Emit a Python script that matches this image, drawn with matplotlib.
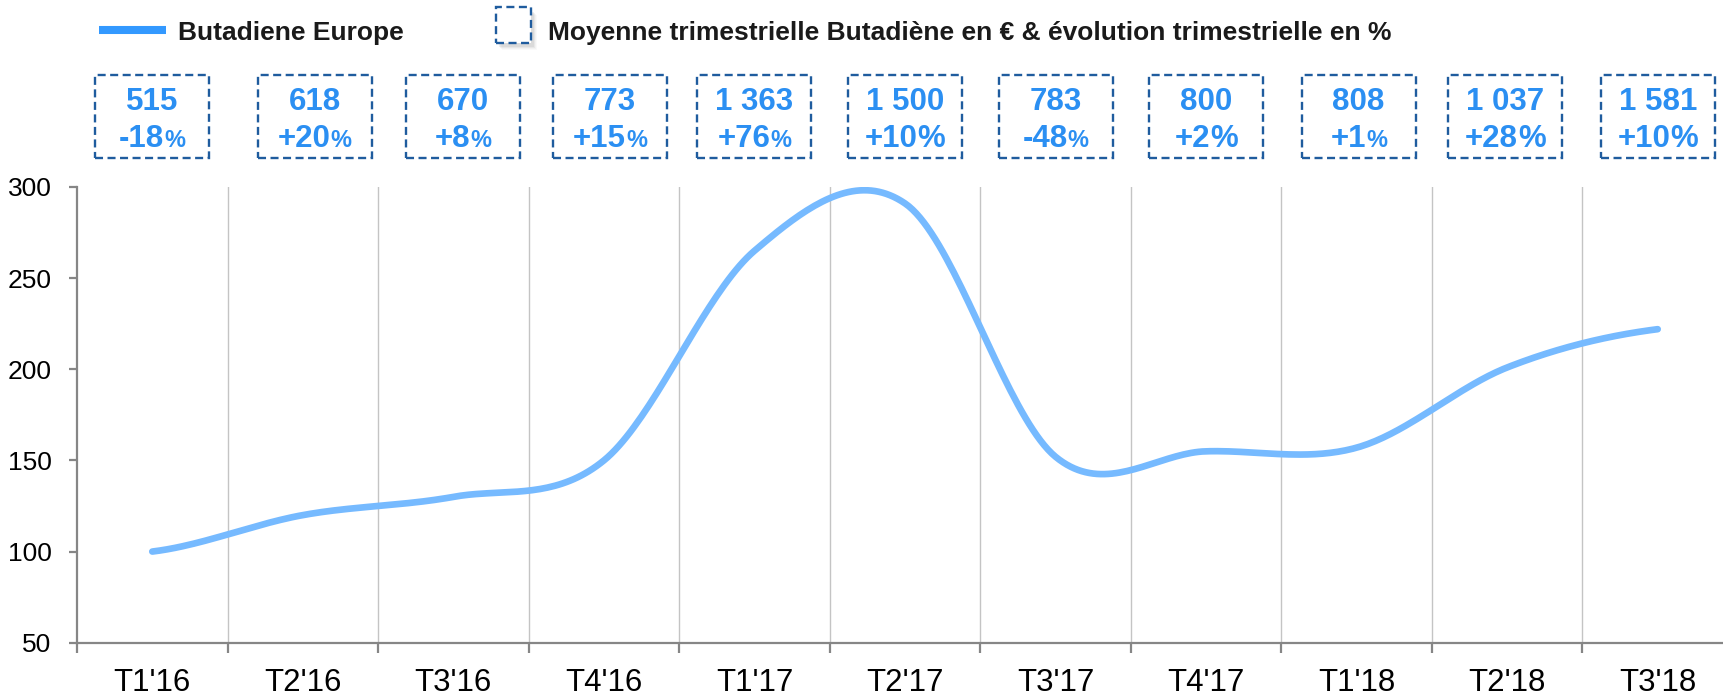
import numpy as np
import matplotlib
matplotlib.use('Agg')
import matplotlib.pyplot as plt
from matplotlib.patches import Rectangle
from matplotlib.transforms import IdentityTransform

plt.rcParams['font.family'] = ['Liberation Sans', 'DejaVu Sans']

# Quarterly data
quarters = ["T1'16", "T2'16", "T3'16", "T4'16", "T1'17", "T2'17",
            "T3'17", "T4'17", "T1'18", "T2'18", "T3'18"]
butadiene_index = [100, 120, 130, 150, 265, 291, 152, 155, 157, 201, 222]
avg_price_eur = ["515", "618", "670", "773", "1 363", "1 500",
                 "783", "800", "808", "1 037", "1 581"]
qoq_change = ["-18", "+20", "+8", "+15", "+76", "+10",
              "-48", "+2", "+1", "+28", "+10"]

# layout / style of the boxes above the chart
small_pct = [True, True, True, True, True, False, True, False, True, False, False]
box_shift_px = [0, 12, 10, 6, 0, 0, 0, 0, 2, -2, 0]

LINE_COLOR = '#76BAFF'
LEGEND_LINE = '#3399FF'
BOX_TEXT = '#2B8FF2'
BOX_EDGE = '#1F5C9E'
TEXT_DARK = '#1A1A1A'

W, H = 1723, 695
fig = plt.figure(figsize=(W / 100, H / 100), dpi=100)
ax = fig.add_axes([77 / W, 52.3 / H, 1656 / W, 455.7 / H])


def smooth_line(y, n=40):
    """Catmull-Rom curve through the quarterly points (Excel-style smoothing)."""
    y = np.asarray(y, dtype=float)
    p = np.concatenate([[y[0]], y, [y[-1]]])
    xs, ys = [], []
    for i in range(len(y) - 1):
        p0, p1, p2, p3 = p[i], p[i + 1], p[i + 2], p[i + 3]
        m1 = (p2 - p0) / 2
        m2 = (p3 - p1) / 2
        t = np.linspace(0, 1, n, endpoint=(i == len(y) - 2))
        h00 = 2 * t**3 - 3 * t**2 + 1
        h10 = t**3 - 2 * t**2 + t
        h01 = -2 * t**3 + 3 * t**2
        h11 = t**3 - t**2
        xs.append(i + t)
        ys.append(h00 * p1 + h10 * m1 + h01 * p2 + h11 * m2)
    return np.concatenate(xs), np.concatenate(ys)


x = np.arange(len(quarters))
sx, sy = smooth_line(butadiene_index)

# vertical separators between quarters
for b in np.arange(0.5, len(quarters) - 0.5, 1.0):
    ax.axvline(b, color='#C4C4C4', lw=1.0, zorder=1)

ax.plot(sx, sy, color=LINE_COLOR, lw=4.8, solid_capstyle='round', zorder=3)

ax.set_xlim(-0.5, len(quarters) - 0.5)
ax.set_ylim(50, 300)
ax.set_yticks(np.arange(50, 301, 50))
ax.set_xticks(x)
ax.set_xticklabels(quarters)
ax.set_xticks(np.arange(-0.5, len(quarters), 1.0), minor=True)

for side in ['top', 'right']:
    ax.spines[side].set_visible(False)
for side in ['left', 'bottom']:
    ax.spines[side].set_color('#868686')
    ax.spines[side].set_linewidth(1.6)

ax.tick_params(axis='x', which='major', length=0, pad=18, labelsize=22.5, labelcolor='black')
ax.tick_params(axis='x', which='minor', length=7.2, width=1.6, color='#868686')
ax.tick_params(axis='y', length=5.8, width=1.6, color='#868686', pad=12.5,
               labelsize=19, labelcolor='black')

# legend row
fig.add_artist(plt.Line2D([99, 166], [H - 29.5, H - 29.5], transform=IdentityTransform(),
                          color=LEGEND_LINE, lw=5.8, solid_capstyle='butt'))
fig.text(178, H - 40, 'Butadiene Europe', transform=IdentityTransform(),
         fontsize=19, fontweight='bold', color=TEXT_DARK, va='baseline')

# dashed legend key with a soft shadow
for k, a in enumerate([0.12, 0.09, 0.06, 0.04]):
    fig.add_artist(Rectangle((499 + k, H - 47 - k), 35, 35, transform=IdentityTransform(),
                             facecolor='#7F7F7F', edgecolor='none', alpha=a, zorder=1))
fig.add_artist(Rectangle((495.7, H - 42.7), 35, 35.4, transform=IdentityTransform(),
                         facecolor='white', edgecolor=BOX_EDGE, lw=1.7,
                         linestyle=(0, (3.4, 1.9)), zorder=2))
fig.text(548, H - 40, 'Moyenne trimestrielle Butadiène en € & évolution trimestrielle en %',
         transform=IdentityTransform(), fontsize=19, fontweight='bold',
         color=TEXT_DARK, va='baseline')

# boxes with quarterly average price and quarter-on-quarter change
fig.canvas.draw()
renderer = fig.canvas.get_renderer()
for i in range(len(quarters)):
    cx = ax.transData.transform((i, 0))[0] + box_shift_px[i]
    fig.add_artist(Rectangle((cx - 57, H - 157.5), 114, 83, transform=IdentityTransform(),
                             facecolor='none', edgecolor=BOX_EDGE, lw=1.7,
                             linestyle=(0, (3.4, 1.9))))
    fig.text(cx, H - 110, avg_price_eur[i], transform=IdentityTransform(),
             ha='center', va='baseline', fontsize=22.5, fontweight='bold', color=BOX_TEXT)

    t_num = fig.text(0, H - 147, qoq_change[i], transform=IdentityTransform(),
                     ha='left', va='baseline', fontsize=22.5, fontweight='bold', color=BOX_TEXT)
    t_pct = fig.text(0, H - 147, '%', transform=IdentityTransform(),
                     ha='left', va='baseline', fontsize=17 if small_pct[i] else 22.5,
                     fontweight='bold', color=BOX_TEXT)
    w_num = t_num.get_window_extent(renderer).width
    w_pct = t_pct.get_window_extent(renderer).width
    x0 = cx - (w_num + w_pct) / 2
    t_num.set_x(x0)
    t_pct.set_x(x0 + w_num)

fig.savefig('out.png', dpi=100)
